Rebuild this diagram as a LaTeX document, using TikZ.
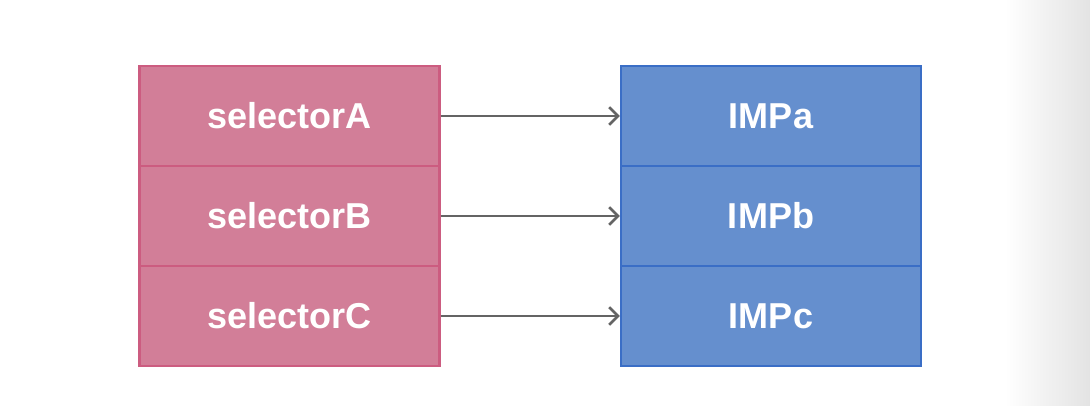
\documentclass[tikz,border=0pt]{standalone}
\usepackage{fontspec}
\setmainfont{Liberation Sans}
\usetikzlibrary{arrows.meta}
\definecolor{selfill}{RGB}{210,126,152}
\definecolor{seldraw}{RGB}{204,92,128}
\definecolor{impfill}{RGB}{101,143,206}
\definecolor{impdraw}{RGB}{58,110,198}
\definecolor{arrowgray}{RGB}{100,100,100}
\tikzset{
  sel/.style={draw=seldraw, fill=selfill, line width=1.4pt, minimum width=6cm,
    minimum height=2cm, text=white, font=\fontsize{20.5}{24}\selectfont\bfseries},
  imp/.style={sel, draw=impdraw, fill=impfill},
}
\begin{document}
\begin{tikzpicture}
      \useasboundingbox (0,0) rectangle (21.8,-8.12);
      \shade[left color=white, right color=black!11] (20.1,0) rectangle (21.8,-8.12);
      \draw
        (5.79,-2.32) node[sel] (sa){selectorA}
        (5.79,-4.32) node[sel] (sb){selectorB}
        (5.79,-6.32) node[sel] (sc){selectorC}
        (15.42,-2.32) node[imp] (ia){IMPa}
        (15.42,-4.32) node[imp] (ib){IMPb}
        (15.42,-6.32) node[imp] (ic){IMPc};
      \begin{scope}[-{Straight Barb[length=5pt,width=10pt]}, draw=arrowgray, line width=1.5pt]
        \draw (sa) to (ia);
        \draw (sb) to (ib);
        \draw (sc) to (ic);
      \end{scope}
    \end{tikzpicture}
\end{document}
